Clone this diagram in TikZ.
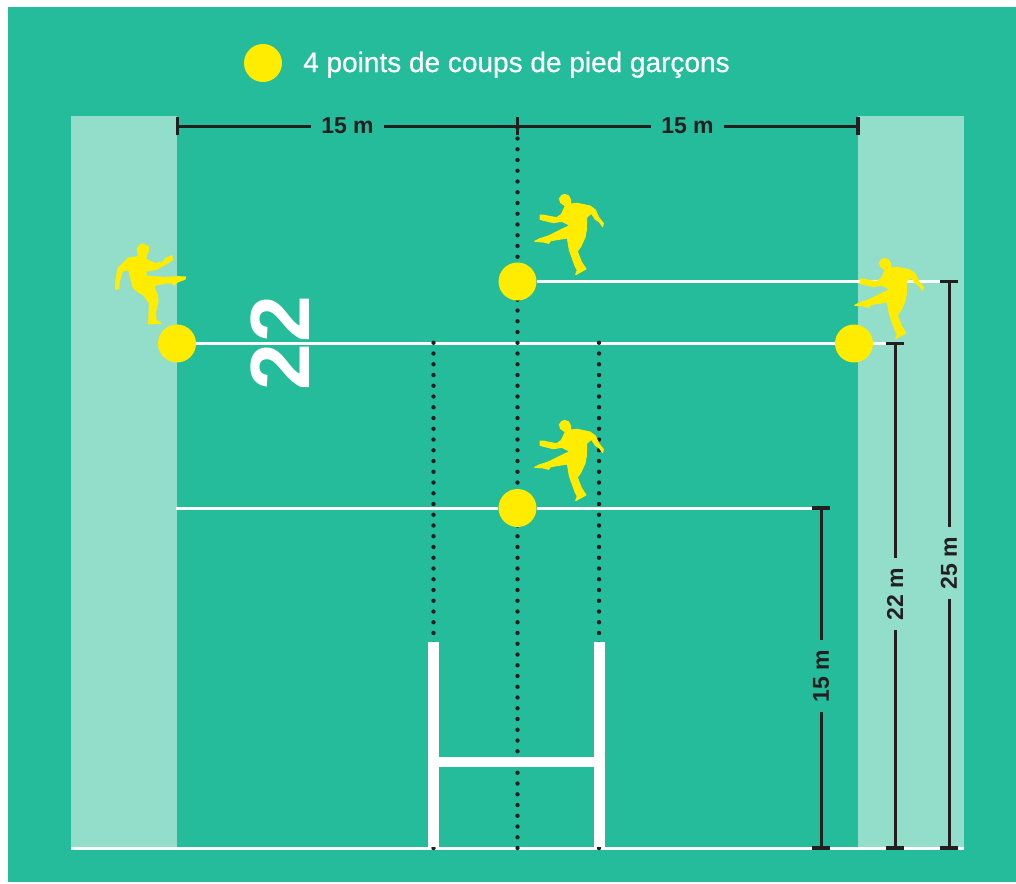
\documentclass[tikz,border=0pt]{standalone}
\usepackage{fontspec}
\setmainfont{Liberation Sans}
\newfontfamily\titlefont[FakeBold=0.6]{Liberation Sans}
\pgfdeclarelayer{under}
\pgfsetlayers{under,main}
\definecolor{fieldgreen}{HTML}{25BC9C}
\definecolor{palegreen}{HTML}{93DDCB}
\definecolor{ballyellow}{HTML}{FFEC00}
\definecolor{inkdark}{HTML}{231F20}
\tikzset{
  kickspot/.style={circle,fill=ballyellow,draw=none,inner sep=0pt,minimum size=38pt},
  fieldline/.style={white,line width=3pt},
  guide/.style={inkdark,line width=4.4pt,line cap=round,dash pattern=on 0pt off 10.75pt},
  dimline/.style={inkdark,line width=3pt},
  dimtick/.style={inkdark,line width=3.2pt},
  dimlabel/.style={text=inkdark,font=\bfseries\fontsize{23}{24}\selectfont,inner sep=0pt,minimum width=72pt,minimum height=24pt,anchor=center},
  numeral/.style={white,font=\bfseries\fontsize{84}{84}\selectfont,rotate=90,inner sep=0pt,anchor=center},
  post/.style={fill=white,draw=none},
  player/.style={fill=ballyellow,draw=ballyellow,line width=1pt,line join=round},
  kickerA/.pic={
    \filldraw[player] (222,44)--(236,48)--(242,60)--(242,72)--(262,70)--(300,78)--(316,90)--(326,112)--(340,130)--(338,140)--(328,126)--(316,118)--(304,100)--(290,112)--(289,150)--(285,172)--(272,200)--(262,214)--(274,246)--(288,267)--(270,277)--(257,284)--(262,270)--(256,260)--(238,210)--(232,174)--(182,182)--(176,190)--(160,186)--(134,184)--(150,176)--(175,168)--(240,136)--(216,124)--(190,128)--(165,122)--(150,118)--(150,105)--(162,105)--(172,108)--(200,113)--(214,103)--(226,78)--(212,68)--(208,55)--cycle;
    \filldraw[player] (224,57) circle (14);
  },
  kickerB/.pic={
    \filldraw[player] (128,193)--(145,200)--(146,212)--(138,228)--(138,238)--(165,250)--(190,246)--(196,235)--(205,232)--(215,227)--(219,238)--(208,246)--(192,256)--(170,268)--(138,274)--(138,288)--(190,292)--(235,290)--(257,291)--(255,298)--(232,306)--(222,316)--(215,308)--(170,314)--(162,320)--(172,345)--(174,365)--(167,395)--(168,420)--(183,430)--(146,432)--(148,370)--(133,347)--(106,330)--(98,318)--(86,270)--(68,272)--(58,305)--(57,325)--(47,328)--(47,305)--(54,265)--(85,234)--(115,230)--(112,205)--cycle;
    \filldraw[player] (128,206) circle (14);
  }
}
\begin{document}
\begin{tikzpicture}[x=1pt,y=-1pt]
\useasboundingbox (0,0) rectangle (1016,883);

% named points
\coordinate (topL) at (177.5,126);
\coordinate (topM) at (517.5,126);
\coordinate (topR) at (858,126);
\coordinate (baseL) at (71,848);
\coordinate (baseR) at (964,848);
\coordinate (edge15) at (176,508);
\coordinate (end15) at (821,508);
\coordinate (foot15) at (821,848);
\coordinate (end22) at (895,343.5);
\coordinate (foot22) at (895,848);
\coordinate (end25) at (949,281.5);
\coordinate (foot25) at (949,848);
\coordinate (gLtop) at (433.5,342);
\coordinate (gLbot) at (433.5,848);
\coordinate (gRtop) at (599,342);
\coordinate (gRbot) at (599,848);
\coordinate (gMbot) at (517.5,848);

% kicking spots
\node[kickspot] (legend) at (263,63) {};
\node[kickspot] (spotL) at (177,343.5) {};
\node[kickspot] (spotR) at (854,343.5) {};
\node[kickspot] (spotT) at (517.5,281.5) {};
\node[kickspot] (spotM) at (517.5,508) {};

\begin{pgfonlayer}{under}
\fill[fieldgreen] (8,7) rectangle (1016,882);
\fill[palegreen] (71,116) rectangle (177,848);
\fill[palegreen] (858,116) rectangle (964,848);
% field lines
\draw[fieldline] (baseL) -- (baseR);
\draw[fieldline] (spotL) -- (spotR);
\draw[fieldline] (spotR) -- (end22);
\draw[fieldline] (spotT) -- (end25);
\draw[fieldline] (edge15) -- (spotM);
\draw[fieldline] (spotM) -- (end15);
% dotted guides
\draw[guide] (gMbot) -- (topM);
\draw[guide] (gLbot) -- (gLtop);
\draw[guide] (gRbot) -- (gRtop);
% posts
\fill[post] (428,642) rectangle (439,847);
\fill[post] (594,642) rectangle (605,847);
\fill[post] (439,756.5) rectangle (594,767);
\end{pgfonlayer}

% 22
\node[numeral] (numA) at (280,319) {2};
\node[numeral] (numB) at (280,367.5) {2};

% legend text
\node[white,anchor=base west,inner sep=0pt,font=\titlefont\fontsize{28}{28}\selectfont] (legendtext) at (303,72) {4 points de coups de pied garçons};

% dimensions
\node[dimlabel] (d1) at (347.5,126) {15 m};
\node[dimlabel] (d2) at (687.5,126) {15 m};
\draw[dimline] (topL) -- (d1);
\draw[dimline] (d1) -- (topM);
\draw[dimline] (topM) -- (d2);
\draw[dimline] (d2) -- (topR);
\draw[dimtick] ([yshift=-9pt]topL) -- ([yshift=9pt]topL);
\draw[dimtick] ([yshift=-9pt]topM) -- ([yshift=9pt]topM);
\draw[dimtick] ([yshift=-9pt]topR) -- ([yshift=9pt]topR);

\node[dimlabel,rotate=90] (d15) at (821,676) {15 m};
\node[dimlabel,rotate=90] (d22) at (895,594) {22 m};
\node[dimlabel,rotate=90] (d25) at (949,563) {25 m};
\draw[dimline] (end15) -- (d15);
\draw[dimline] (d15) -- (foot15);
\draw[dimline] (end22) -- (d22);
\draw[dimline] (d22) -- (foot22);
\draw[dimline] (end25) -- (d25);
\draw[dimline] (d25) -- (foot25);
\foreach \p in {end15,foot15,end22,foot22,end25,foot25}
  \draw[dimtick] ([xshift=-9pt]\p) -- ([xshift=9pt]\p);

% players
\pic[xscale=1/3,yscale=1/3] at (490,180) {kickerA};
\pic[xscale=1/3,yscale=1/3] at (490,406) {kickerA};
\pic[xscale=1/3,yscale=1/3] at (810,244) {kickerA};
\pic[xscale=1/3,yscale=1/3] at (100,180) {kickerB};
\end{tikzpicture}
\end{document}
